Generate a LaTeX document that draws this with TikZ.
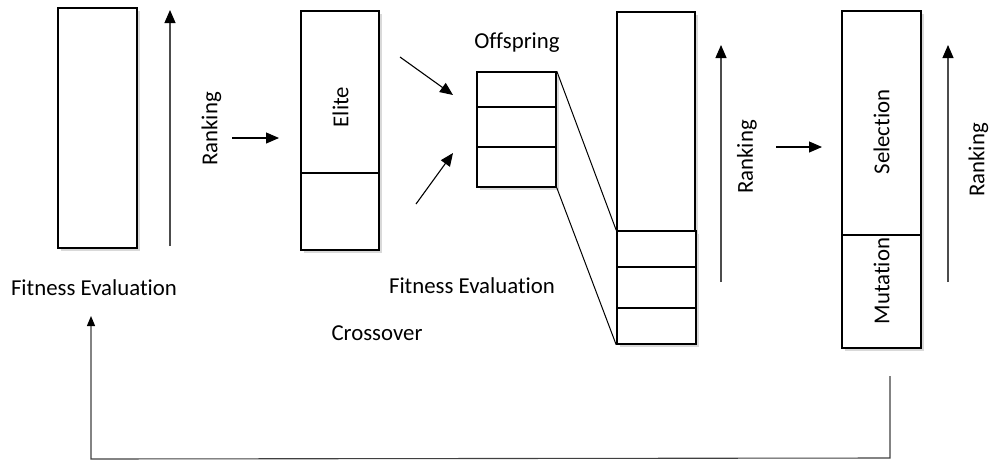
\documentclass[tikz,border=0pt]{standalone}
\usepackage{fontspec}
\setmainfont{Carlito}[Ligatures={NoCommon,NoRequired,NoContextual}]
\usepackage{xcolor}
\usepackage{tikz}
\usetikzlibrary{arrows.meta,shadows}

\begin{document}
\begin{tikzpicture}[x=1pt, y=-1pt,
  box/.style={draw, line width=1.6pt, fill=white, inner sep=0pt,
    drop shadow={shadow xshift=2.5pt, shadow yshift=-2.5pt, opacity=.3, fill=gray}},
  lbl/.style={font=\fontsize{22.8}{27}\selectfont, inner sep=0pt},
  rlbl/.style={lbl, rotate=90},
  rank/.style={draw=black!70, line width=1.1pt, -{Triangle[length=13pt,width=11pt,black]}},
  flow/.style={line width=1.1pt, -{Triangle[length=13pt,width=11pt]}}]
\useasboundingbox (0,0) rectangle (992,461);

\node [box, minimum width=79pt, minimum height=240pt] (pop) at (97.5,128) {};
\node [box, minimum width=78pt, minimum height=239pt] (elite) at (340,130.5) {};
\node [box, minimum width=79pt, minimum height=115pt] (offspring) at (516.5,129.5) {};
\node [box, minimum width=78pt, minimum height=219pt] (pool) at (656,121.5) {};
\node [box, minimum width=79pt, minimum height=113pt] (merged) at (656.5,287.5) {};
\node [box, minimum width=79pt, minimum height=337pt] (sel) at (881.5,179.5) {};

\draw [line width=1.1pt] (elite.west |- 0,173) -- (elite.east |- 0,173);
\draw [line width=1.1pt] (offspring.west |- 0,107) -- (offspring.east |- 0,107);
\draw [line width=1.1pt] (offspring.west |- 0,147) -- (offspring.east |- 0,147);
\draw [line width=1.1pt] (merged.west |- 0,267) -- (merged.east |- 0,267);
\draw [line width=1.1pt] (merged.west |- 0,308) -- (merged.east |- 0,308);
\draw [line width=1.1pt] (sel.west |- 0,235) -- (sel.east |- 0,235);

\draw [line width=1pt] (offspring.north east) -- (merged.north west);
\draw [line width=1pt] (offspring.south east) -- (merged.south west);

\node [rlbl] (elitetxt) at (340.5,107) {Elite};
\node [rlbl] (seltxt) at (881.5,132) {Selection};
\node [rlbl] (muttxt) at (881.5,281) {Mutation};
\node [rlbl] (rank1) at (211.5,129) {Ranking};
\node [rlbl] (rank3) at (747,157) {Ranking};
\node [rlbl] (rank4) at (978.5,160) {Ranking};
\node [lbl] (fit1) at (94,288) {Fitness Evaluation};
\node [lbl] (fit2) at (472,286) {Fitness Evaluation};
\node [lbl] (cross) at (377,333) {Crossover};
\node [lbl] (offtxt) at (517,43) {Offspring};

\coordinate (r1a) at (170,246);
\coordinate (r1b) at (170,10);
\coordinate (r3a) at (721,282);
\coordinate (r3b) at (721,45);
\coordinate (r4a) at (948,282);
\coordinate (r4b) at (948,45);
\draw [rank] (r1a) -- (r1b);
\draw [rank] (r3a) -- (r3b);
\draw [rank] (r4a) -- (r4b);

\coordinate (m1a) at (232,138);
\coordinate (m1b) at (279,138);
\coordinate (m3a) at (776,147);
\coordinate (m3b) at (822,147);
\draw [flow] (m1a) -- (m1b);
\draw [flow] (m3a) -- (m3b);

\coordinate (xa) at (400,57);
\coordinate (xb) at (453,95);
\coordinate (ya) at (416,204);
\coordinate (yb) at (453,153);
\draw [flow] (xa) -- (xb);
\draw [flow] (ya) -- (yb);

\coordinate (backa) at (890,376);
\coordinate (backb) at (91,316);
\draw [draw=black!75, line width=1.1pt, -{Triangle[length=10pt,width=8pt,black]}]
  (backa) -- (890,458) -- (91,459) -- (backb);
\end{tikzpicture}
\end{document}
